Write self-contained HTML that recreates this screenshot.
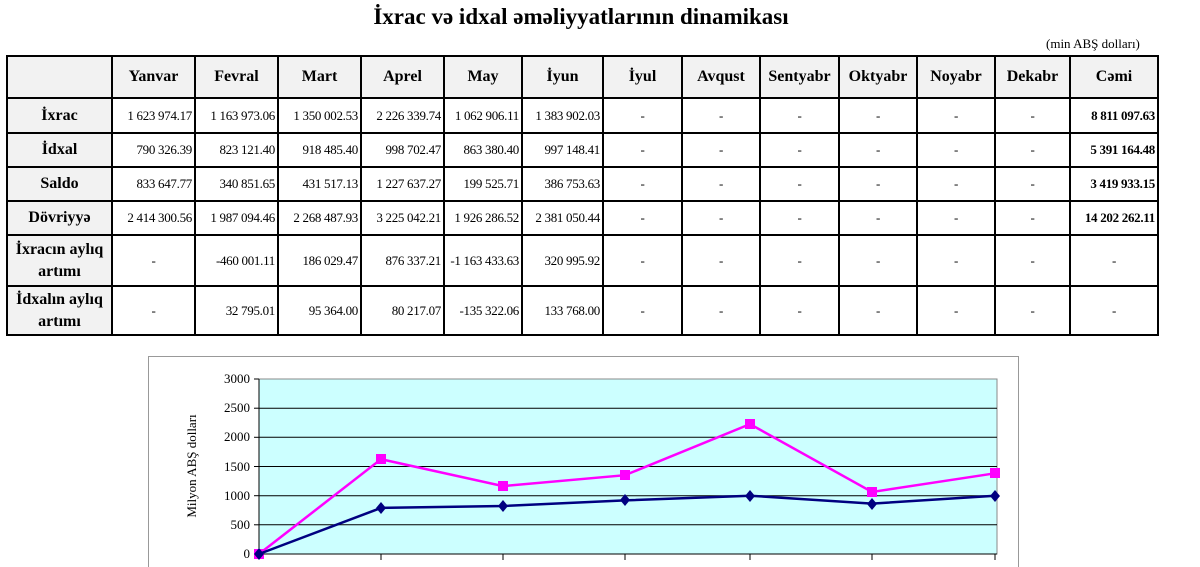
<!DOCTYPE html>
<html><head><meta charset="utf-8"><style>
body{margin:0;width:1200px;height:567px;overflow:hidden;background:#fff;font-family:"Liberation Serif",serif;position:relative}
h1{position:absolute;top:4px;left:0;width:1162px;text-align:center;margin:0;font-size:23px;font-weight:bold}
.unit{position:absolute;top:36px;left:1046px;font-size:13px}
table{position:absolute;left:6px;top:55px;border-collapse:collapse;table-layout:fixed;width:1151px}
td{border:2px solid #000;font-size:13px;text-align:right;padding:0 2px;white-space:nowrap;overflow:hidden;letter-spacing:-0.3px}
tr.h td{font-weight:bold;font-size:16px;text-align:center;background:#f2f2f2;letter-spacing:0}
td.r{font-weight:bold;font-size:16px;text-align:center;background:#f2f2f2;line-height:22px;white-space:normal;letter-spacing:0}
td.d{text-align:center}
td.b{font-weight:bold}
</style></head><body>
<h1>İxrac və idxal əməliyyatlarının dinamikası</h1>
<div class="unit">(min ABŞ dolları)</div>
<table>
<colgroup><col style="width:105px"><col style="width:83px"><col style="width:83px"><col style="width:83px"><col style="width:83px"><col style="width:78px"><col style="width:81px"><col style="width:79px"><col style="width:78px"><col style="width:79px"><col style="width:78px"><col style="width:78px"><col style="width:75px"><col style="width:88px"></colgroup>
<tr class="h" style="height:42px"><td></td><td>Yanvar</td><td>Fevral</td><td>Mart</td><td>Aprel</td><td>May</td><td>İyun</td><td>İyul</td><td>Avqust</td><td>Sentyabr</td><td>Oktyabr</td><td>Noyabr</td><td>Dekabr</td><td>Cəmi</td></tr>
<tr style="height:35px"><td class="r">İxrac</td><td>1 623 974.17</td><td>1 163 973.06</td><td>1 350 002.53</td><td>2 226 339.74</td><td>1 062 906.11</td><td>1 383 902.03</td><td class="d">-</td><td class="d">-</td><td class="d">-</td><td class="d">-</td><td class="d">-</td><td class="d">-</td><td class="b">8 811 097.63</td></tr>
<tr style="height:34px"><td class="r">İdxal</td><td>790 326.39</td><td>823 121.40</td><td>918 485.40</td><td>998 702.47</td><td>863 380.40</td><td>997 148.41</td><td class="d">-</td><td class="d">-</td><td class="d">-</td><td class="d">-</td><td class="d">-</td><td class="d">-</td><td class="b">5 391 164.48</td></tr>
<tr style="height:34px"><td class="r">Saldo</td><td>833 647.77</td><td>340 851.65</td><td>431 517.13</td><td>1 227 637.27</td><td>199 525.71</td><td>386 753.63</td><td class="d">-</td><td class="d">-</td><td class="d">-</td><td class="d">-</td><td class="d">-</td><td class="d">-</td><td class="b">3 419 933.15</td></tr>
<tr style="height:34px"><td class="r">Dövriyyə</td><td>2 414 300.56</td><td>1 987 094.46</td><td>2 268 487.93</td><td>3 225 042.21</td><td>1 926 286.52</td><td>2 381 050.44</td><td class="d">-</td><td class="d">-</td><td class="d">-</td><td class="d">-</td><td class="d">-</td><td class="d">-</td><td class="b">14 202 262.11</td></tr>
<tr style="height:51px"><td class="r">İxracın aylıq artımı</td><td class="d">-</td><td>-460 001.11</td><td>186 029.47</td><td>876 337.21</td><td>-1 163 433.63</td><td>320 995.92</td><td class="d">-</td><td class="d">-</td><td class="d">-</td><td class="d">-</td><td class="d">-</td><td class="d">-</td><td class="d">-</td></tr>
<tr style="height:49px"><td class="r">İdxalın aylıq artımı</td><td class="d">-</td><td>32 795.01</td><td>95 364.00</td><td>80 217.07</td><td>-135 322.06</td><td>133 768.00</td><td class="d">-</td><td class="d">-</td><td class="d">-</td><td class="d">-</td><td class="d">-</td><td class="d">-</td><td class="d">-</td></tr>
</table>
<svg style="position:absolute;left:0;top:0" width="1200" height="567">
<rect x="148.5" y="356.5" width="870" height="220" fill="#fff" stroke="#999"/>
<rect x="259" y="379" width="738" height="175" fill="#ccffff" stroke="#888"/>
<g stroke="#000" stroke-width="1">
<line x1="259" x2="997" y1="408.2" y2="408.2"/><line x1="259" x2="997" y1="437.3" y2="437.3"/><line x1="259" x2="997" y1="466.5" y2="466.5"/><line x1="259" x2="997" y1="495.7" y2="495.7"/><line x1="259" x2="997" y1="524.8" y2="524.8"/>
<line x1="259" x2="997" y1="554" y2="554"/><line x1="259" x2="259" y1="379" y2="554"/>
<line x1="254" x2="259" y1="379" y2="379"/><line x1="254" x2="259" y1="408.2" y2="408.2"/><line x1="254" x2="259" y1="437.3" y2="437.3"/><line x1="254" x2="259" y1="466.5" y2="466.5"/><line x1="254" x2="259" y1="495.7" y2="495.7"/><line x1="254" x2="259" y1="524.8" y2="524.8"/><line x1="254" x2="259" y1="554" y2="554"/>
<line x1="381" x2="381" y1="554" y2="560"/><line x1="503" x2="503" y1="554" y2="560"/><line x1="625" x2="625" y1="554" y2="560"/><line x1="750" x2="750" y1="554" y2="560"/><line x1="872" x2="872" y1="554" y2="560"/><line x1="995" x2="995" y1="554" y2="560"/>
</g>
<g font-family="Liberation Serif,serif" font-size="13" text-anchor="end">
<text x="250" y="383">3000</text><text x="250" y="412">2500</text><text x="250" y="441">2000</text><text x="250" y="471">1500</text><text x="250" y="500">1000</text><text x="250" y="529">500</text><text x="250" y="558">0</text>
</g>
<text transform="translate(196,466) rotate(-90)" font-family="Liberation Serif,serif" font-size="13" text-anchor="middle">Milyon ABŞ dolları</text>
<polyline fill="none" stroke="#ff00ff" stroke-width="2.5" points="259,554 381,459.2 503,486.1 625,475.2 750,424.1 872,492 995,473.3"/>
<g fill="#ff00ff"><rect x="254" y="549" width="10" height="10"/><rect x="376" y="454" width="10" height="10"/><rect x="498" y="481" width="10" height="10"/><rect x="620" y="470" width="10" height="10"/><rect x="745" y="419" width="10" height="10"/><rect x="867" y="487" width="10" height="10"/><rect x="990" y="468" width="10" height="10"/></g>
<polyline fill="none" stroke="#000080" stroke-width="2.5" points="259,554 381,507.9 503,506 625,500.4 750,495.7 872,503.6 995,495.8"/>
<g fill="#000080"><path d="M259 548l5 6-5 6-5-6z"/><path d="M381 502l5 6-5 6-5-6z"/><path d="M503 500l5 6-5 6-5-6z"/><path d="M625 494l5 6-5 6-5-6z"/><path d="M750 490l5 6-5 6-5-6z"/><path d="M872 498l5 6-5 6-5-6z"/><path d="M995 490l5 6-5 6-5-6z"/></g>
</svg>
</body></html>
